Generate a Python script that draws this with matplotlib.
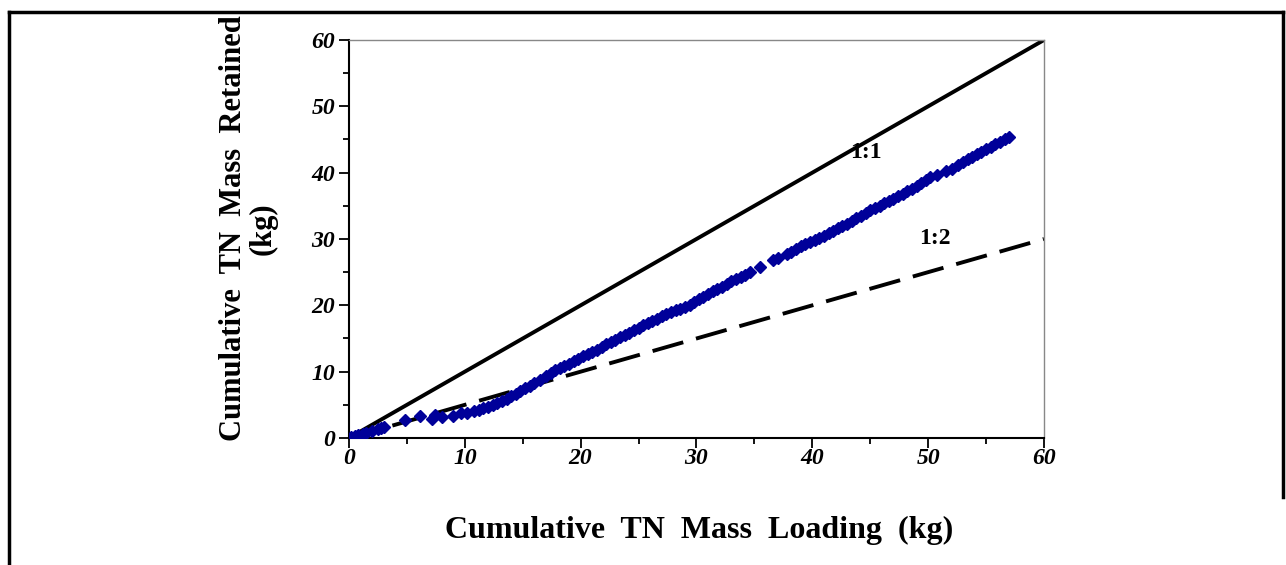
import matplotlib.pyplot as plt
from matplotlib.ticker import MultipleLocator
from matplotlib.lines import Line2D

# cumulative TN loading (kg) and retained (kg)
loading = [0.2, 0.5, 0.8, 1.2, 1.5, 2.0, 2.5, 2.8, 3.0,
           4.8, 6.1, 7.2, 7.4, 8.0, 9.0, 9.7, 10.2, 10.8,
           11.2, 11.6, 12.0, 12.4, 12.8, 13.2, 13.6, 14.0, 14.4, 14.8,
           15.2, 15.6, 16.0, 16.5, 17.0, 17.4, 17.8, 18.2, 18.6, 19.0,
           19.4, 19.8, 20.2, 20.6, 21.0, 21.4, 21.8, 22.2, 22.6, 23.0,
           23.4, 23.8, 24.2, 24.6, 25.0, 25.4, 25.8, 26.2, 26.6, 27.0,
           27.4, 27.8, 28.2, 28.6, 29.0, 29.4, 29.8, 30.2, 30.6, 31.0,
           31.4, 31.8, 32.2, 32.6, 33.0, 33.4, 33.8, 34.2, 34.6,
           35.5, 36.6, 37.0, 37.8, 38.2, 38.6, 39.0, 39.4, 39.8,
           40.2, 40.6, 41.0, 41.4, 41.8, 42.2, 42.6, 43.0, 43.4, 43.8,
           44.2, 44.6, 45.0, 45.4, 45.8, 46.2, 46.6, 47.0, 47.4, 47.8,
           48.2, 48.6, 49.0, 49.4, 49.8, 50.2, 50.8, 51.5, 52.1, 52.6,
           53.0, 53.4, 53.8, 54.2, 54.6, 55.0, 55.4, 55.8, 56.2, 56.6, 57.0]
retained = [0.1, 0.3, 0.4, 0.6, 0.8, 1.0, 1.3, 1.5, 1.6,
            2.7, 3.3, 2.8, 3.4, 3.1, 3.3, 3.8, 3.8, 4.0,
            4.2, 4.5, 4.7, 5.0, 5.3, 5.6, 5.9, 6.3, 6.7, 7.1,
            7.5, 7.9, 8.3, 8.8, 9.3, 9.8, 10.2, 10.6, 10.9, 11.2,
            11.6, 11.9, 12.3, 12.6, 13.0, 13.3, 13.7, 14.1, 14.4, 14.8,
            15.2, 15.6, 15.9, 16.3, 16.6, 17.0, 17.3, 17.7, 18.0, 18.4,
            18.7, 19.0, 19.3, 19.5, 19.7, 20.1, 20.5, 20.9, 21.3, 21.7,
            22.1, 22.5, 22.8, 23.2, 23.6, 23.9, 24.3, 24.6, 25.0,
            25.8, 26.8, 27.2, 27.7, 28.1, 28.5, 28.9, 29.3, 29.6,
            29.9, 30.2, 30.5, 30.9, 31.2, 31.6, 31.9, 32.3, 32.7, 33.1,
            33.5, 33.9, 34.3, 34.6, 35.0, 35.4, 35.8, 36.1, 36.5, 36.8,
            37.2, 37.6, 38.0, 38.4, 38.9, 39.4, 39.7, 40.3, 40.6, 41.2,
            41.6, 42.0, 42.4, 42.8, 43.1, 43.5, 43.9, 44.3, 44.6, 45.0, 45.4]

ref_x = [0, 60]
line_1to1 = [0, 60]
line_1to2 = [0, 30]

serif = ['Liberation Serif', 'DejaVu Serif']

fig = plt.figure(figsize=(12.86, 5.65), dpi=100, facecolor='white')
ax = fig.add_axes([0.2714, 0.2248, 0.5404, 0.7044])

ax.plot(ref_x, line_1to1, color='black', lw=2.8, solid_capstyle='butt', zorder=2)
ax.plot(ref_x, line_1to2, color='black', lw=2.8, dashes=(8.2, 3.4), zorder=2)
ax.plot(loading, retained, ls='none', marker='D', ms=6, color='#000099',
        mec='#000099', zorder=3)

ax.text(44.6, 43.1, '1:1', family=serif, fontweight='bold', fontsize=17,
        ha='center', va='center')
ax.text(50.6, 30.0, '1:2', family=serif, fontweight='bold', fontsize=17,
        ha='center', va='center')

ax.set_xlim(0, 60)
ax.set_ylim(0, 60)
ax.xaxis.set_major_locator(MultipleLocator(10))
ax.xaxis.set_minor_locator(MultipleLocator(5))
ax.yaxis.set_major_locator(MultipleLocator(10))
ax.yaxis.set_minor_locator(MultipleLocator(5))
ax.tick_params(which='major', direction='out', length=7, width=1.3, pad=3)
ax.tick_params(which='minor', direction='out', length=4, width=1.3)
ax.tick_params(axis='x', which='major', pad=0)
for lab in ax.get_xticklabels() + ax.get_yticklabels():
    lab.set_family(serif)
    lab.set_fontweight('bold')
    lab.set_fontstyle('italic')
    lab.set_fontsize(17)

for side in ['left', 'bottom']:
    ax.spines[side].set_linewidth(1.5)
    ax.spines[side].set_color('black')
for side in ['top', 'right']:
    ax.spines[side].set_linewidth(1.0)
    ax.spines[side].set_color('#888888')

fig.text(0.5435, 0.062, 'Cumulative  TN  Mass  Loading  (kg)', family=serif,
         fontweight='bold', fontsize=23, ha='center', va='center')
fig.text(0.193, 0.596, 'Cumulative  TN  Mass  Retained\n(kg)', family=serif,
         fontweight='bold', fontsize=22, ha='center', va='center',
         rotation=90, linespacing=1.0)

# outer frame
fig.add_artist(Line2D([0.0073, 0.0073], [0, 0.978], transform=fig.transFigure,
                      color='black', lw=2.5))
fig.add_artist(Line2D([0.0073, 0.9975], [0.978, 0.978], transform=fig.transFigure,
                      color='black', lw=2.5))
fig.add_artist(Line2D([0.9975, 0.9975], [0.978, 0.12], transform=fig.transFigure,
                      color='black', lw=2.5))

fig.savefig('out.png', dpi=100, facecolor='white')
